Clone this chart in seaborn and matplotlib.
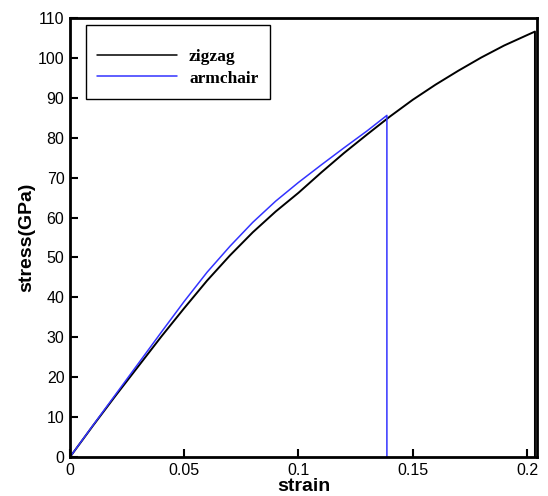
import matplotlib
matplotlib.use("Agg")
import matplotlib.pyplot as plt
from matplotlib.patches import Rectangle
from matplotlib.lines import Line2D
import seaborn as sns
import pandas as pd

# data
zigzag_strain = [0.0, 0.01, 0.02, 0.03, 0.04, 0.05, 0.06, 0.07, 0.08, 0.09, 0.10,
                 0.11, 0.12, 0.13, 0.14, 0.15, 0.16, 0.17, 0.18, 0.19, 0.20, 0.2035, 0.2035]
zigzag_stress = [0.0, 7.8, 15.4, 22.8, 30.2, 37.3, 44.2, 50.5, 56.3, 61.5, 66.2,
                 71.3, 76.2, 80.8, 85.3, 89.5, 93.3, 96.8, 100.1, 103.1, 105.7, 106.6, 0.0]
armchair_strain = [0.0, 0.01, 0.02, 0.03, 0.04, 0.05, 0.06, 0.07, 0.08, 0.09, 0.10,
                   0.11, 0.12, 0.13, 0.1387, 0.1387]
armchair_stress = [0.0, 7.9, 15.7, 23.5, 31.3, 39.0, 46.3, 52.8, 58.8, 64.1, 68.8,
                   73.2, 77.5, 81.7, 85.6, 0.0]
series_names = ["zigzag", "armchair"]
series_colors = ["#000000", "#3333ff"]
xtick_values = [0, 0.05, 0.1, 0.15, 0.2]
xtick_labels = ["0", "0.05", "0.1", "0.15", "0.2"]
ytick_values = list(range(0, 111, 10))

df = pd.concat([
    pd.DataFrame({"strain": zigzag_strain, "stress": zigzag_stress, "series": series_names[0]}),
    pd.DataFrame({"strain": armchair_strain, "stress": armchair_stress, "series": series_names[1]}),
], ignore_index=True)

sns.set_theme(style="ticks")
plt.rcParams["font.family"] = ["Liberation Sans", "DejaVu Sans"]
plt.rcParams["text.color"] = "black"
plt.rcParams["axes.labelcolor"] = "black"

fig = plt.figure(figsize=(5.48, 4.96), dpi=100)
ax = fig.add_axes([70 / 548, 39 / 496, 467 / 548, 439 / 496])

sns.lineplot(data=df, x="strain", y="stress", hue="series", hue_order=series_names,
             palette=series_colors, sort=False, estimator=None, units="series",
             linewidth=1.3, ax=ax, legend=False)
for line, lw in zip(ax.get_lines(), [1.4, 1.1]):
    line.set_linewidth(lw)

ax.set_xlim(0, 0.2044)
ax.set_ylim(0, 110)
ax.set_xticks(xtick_values)
ax.set_xticklabels(xtick_labels)
ax.set_yticks(ytick_values)
ax.tick_params(direction="in", length=6, width=1.5, labelsize=11.5, colors="black", pad=4)
for s in ax.spines.values():
    s.set_linewidth(2)
    s.set_color("black")
    s.set_visible(True)

ax.set_xlabel("strain", fontsize=14, fontweight="bold", labelpad=0, color="black")
ax.set_ylabel("stress(GPa)", fontsize=14, fontweight="bold", labelpad=2, color="black")

# legend
handles = [Line2D([], [], color=c, lw=1.1) for c in series_colors]
leg = ax.legend(handles, series_names, loc="upper left",
                bbox_to_anchor=((97 - 70) / 467, (457 - 49) / 439),
                frameon=False, handlelength=4.6, handletextpad=0.7, labelspacing=0.3,
                borderpad=0, borderaxespad=0,
                prop={"family": "Liberation Serif", "weight": "bold", "size": 12.5})
ax.add_patch(Rectangle(((86 - 70) / 467, (457 - 99) / 439), 184 / 467, 74 / 439,
                       transform=ax.transAxes, fill=False, edgecolor="black", lw=1.0, zorder=5))

fig.savefig("out.png", dpi=100)
